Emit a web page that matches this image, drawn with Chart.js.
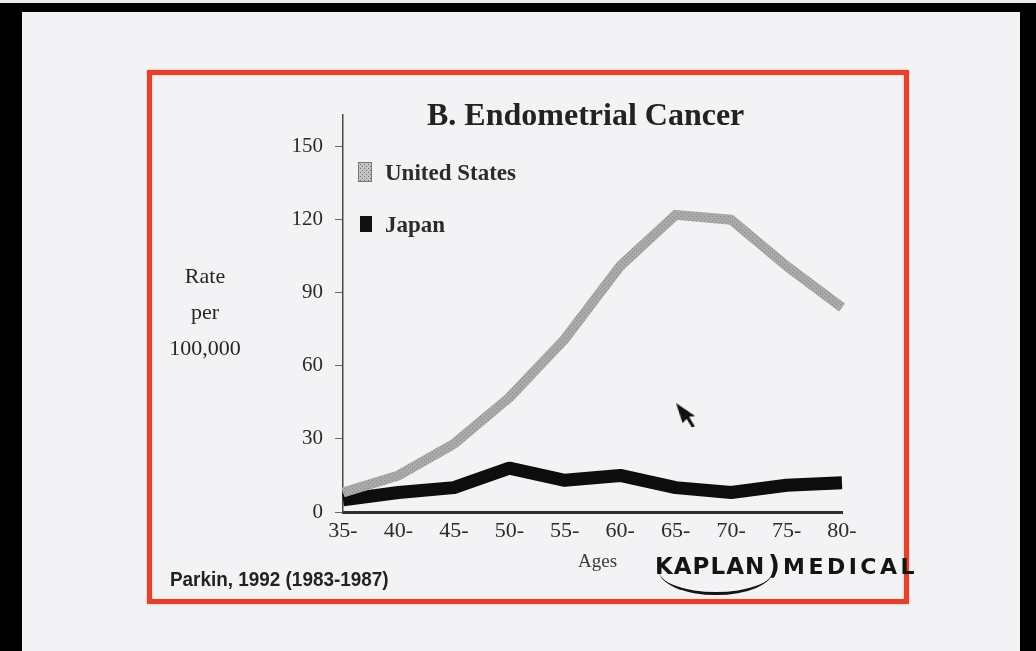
<!DOCTYPE html>
<html>
<head>
<meta charset="utf-8">
<script src="https://cdn.jsdelivr.net/npm/chart.js@4.4.1/dist/chart.umd.min.js"></script>
<style>
  html, body { margin: 0; padding: 0; }
  body { width: 1036px; height: 651px; background: #000; position: relative; overflow: hidden; }
  #topstrip { position: absolute; left: 0; top: 0; width: 1036px; height: 3px; background: #ececec; }
  #slide { position: absolute; left: 22px; top: 12px; width: 998px; height: 639px; background: #f3f3f5; }
  #redbox { position: absolute; left: 147px; top: 70px; width: 752px; height: 524px;
            border: 5px solid #e3412f; box-shadow: inset 0 0 3px rgba(255,180,90,0.7), 0 0 2px rgba(230,80,50,0.5); }
  #wrap { position: absolute; left: 0; top: 0; width: 1036px; height: 651px; }
  .txt { position: absolute; white-space: nowrap; color: #262626; }
  #title { left: 427px; top: 96px; font: bold 32px "Liberation Serif", serif; color: #222; }
  #ylab { left: 155px; top: 258px; width: 100px; text-align: center; font: 22px/36px "Liberation Serif", serif; }
  #ages { left: 578px; top: 550px; font: 19px "Liberation Serif", serif; color: #3a3a3a; }
  #parkin { left: 170px; top: 567px; font: bold 21px "Liberation Sans Narrow", "Liberation Sans", sans-serif; color: #222;
            transform: scaleX(0.9); transform-origin: 0 0; }
  #kaplan { left: 655px; top: 553px; font: bold 23px "DejaVu Sans", sans-serif; letter-spacing: 1px; color: #141414; }
  #paren { left: 768px; top: 550px; font: bold 26px "DejaVu Sans", sans-serif; color: #141414; }
  #medical { left: 783px; top: 554px; font: bold 22px "DejaVu Sans", sans-serif; letter-spacing: 3.5px; color: #141414; }
  #swoosh { position: absolute; left: 659px; top: 566px; width: 114px; height: 26px;
            border-bottom: 3px solid #141414; border-radius: 0 0 60% 60% / 0 0 100% 100%; }
  #cursor { position: absolute; left: 676px; top: 403px; width: 16px; height: 27px; background: #111;
            clip-path: polygon(0 0, 100% 62%, 62% 60%, 85% 100%, 65% 100%, 44% 66%, 14% 78%); transform: rotate(-12deg); transform-origin: 0 0; }
</style>
</head>
<body>
<div id="topstrip"></div>
<div id="slide"></div>
<div id="redbox"></div>
<div id="wrap"><canvas id="c" width="1036" height="651"></canvas></div>
<div class="txt" id="title">B. Endometrial Cancer</div>
<div class="txt" id="ylab">Rate<br>per<br>100,000</div>
<div class="txt" id="ages">Ages</div>
<div class="txt" id="parkin">Parkin, 1992 (1983-1987)</div>
<div id="swoosh"></div>
<div class="txt" id="kaplan">KAPLAN</div>
<div class="txt" id="paren">)</div>
<div class="txt" id="medical">MEDICAL</div>
<div id="cursor"></div>
<script>
// ---- data ----
const ageGroups = ["35-", "40-", "45-", "50-", "55-", "60-", "65-", "70-", "75-", "80-"];
const usRates = [8, 15, 28, 47, 71, 101, 122, 120, 101, 84];
const japanRates = [5, 8, 10, 18, 13, 15, 10, 8, 11, 12];
const yTickValues = [0, 30, 60, 90, 120, 150];
const seriesNames = ["United States", "Japan"];

// fine dotted gray pattern for the United States series
function makePattern(base, dot) {
  const p = document.createElement('canvas');
  p.width = 4; p.height = 4;
  const g = p.getContext('2d');
  g.fillStyle = base; g.fillRect(0, 0, 4, 4);
  g.fillStyle = dot;
  g.fillRect(0, 0, 1, 1); g.fillRect(2, 2, 1, 1);
  return g.createPattern(p, 'repeat');
}
const usPattern = makePattern('#aaaaaa', '#8a8a8a');
const usLegendPattern = makePattern('#c4c4c4', '#6e6e6e');

const legendPlugin = {
  id: 'boxLegend',
  afterDraw(chart) {
    const ctx = chart.ctx;
    const items = [
      { name: seriesNames[0], fill: usLegendPattern, x: 358, y: 162, w: 14, h: 20, ty: 174, border: true },
      { name: seriesNames[1], fill: '#111', x: 360, y: 216, w: 12, h: 16, ty: 226, border: false }
    ];
    ctx.save();
    items.forEach(it => {
      ctx.fillStyle = it.fill;
      ctx.fillRect(it.x, it.y, it.w, it.h);
      if (it.border) { ctx.strokeStyle = '#777'; ctx.lineWidth = 1; ctx.strokeRect(it.x + 0.5, it.y + 0.5, it.w - 1, it.h - 1); }
      ctx.fillStyle = '#2b2b2b';
      ctx.font = 'bold 23px "Liberation Serif", serif';
      ctx.textBaseline = 'middle';
      ctx.fillText(it.name, 385, it.ty);
    });
    ctx.restore();
  }
};

new Chart(document.getElementById('c'), {
  type: 'line',
  data: {
    labels: ageGroups,
    datasets: [
      { label: seriesNames[0], data: usRates, borderColor: usPattern, borderWidth: 10,
        pointRadius: 0, tension: 0, borderJoinStyle: 'round', borderCapStyle: 'butt', fill: false },
      { label: seriesNames[1], data: japanRates, borderColor: '#0d0d0d', borderWidth: 13,
        pointRadius: 0, tension: 0, borderJoinStyle: 'round', borderCapStyle: 'butt', fill: false }
    ]
  },
  options: {
    responsive: false,
    animation: false,
    events: [],
    layout: { padding: { left: 273, right: 194, top: 115, bottom: 99 } },
    plugins: { legend: { display: false }, title: { display: false }, tooltip: { enabled: false } },
    scales: {
      x: {
        type: 'category',
        offset: false,
        afterFit(s) { s.height = 40; },
        grid: { drawOnChartArea: false, drawTicks: false },
        border: { display: true, color: '#303030', width: 3 },
        ticks: { color: '#2a2a2a', padding: 6, maxRotation: 0, autoSkip: false,
                 font: { family: '"Liberation Serif", serif', size: 22 } }
      },
      y: {
        min: 0, max: 163,
        afterFit(s) { s.width = 70; },
        afterBuildTicks(s) { s.ticks = yTickValues.map(v => ({ value: v })); },
        grid: { drawOnChartArea: false, drawTicks: true, tickLength: 8, color: '#666', lineWidth: 1 },
        border: { display: true, color: '#4a4a4a', width: 1.5 },
        ticks: { color: '#2a2a2a', padding: 12,
                 font: { family: '"Liberation Serif", serif', size: 21 } }
      }
    }
  },
  plugins: [legendPlugin]
});
</script>
</body>
</html>
